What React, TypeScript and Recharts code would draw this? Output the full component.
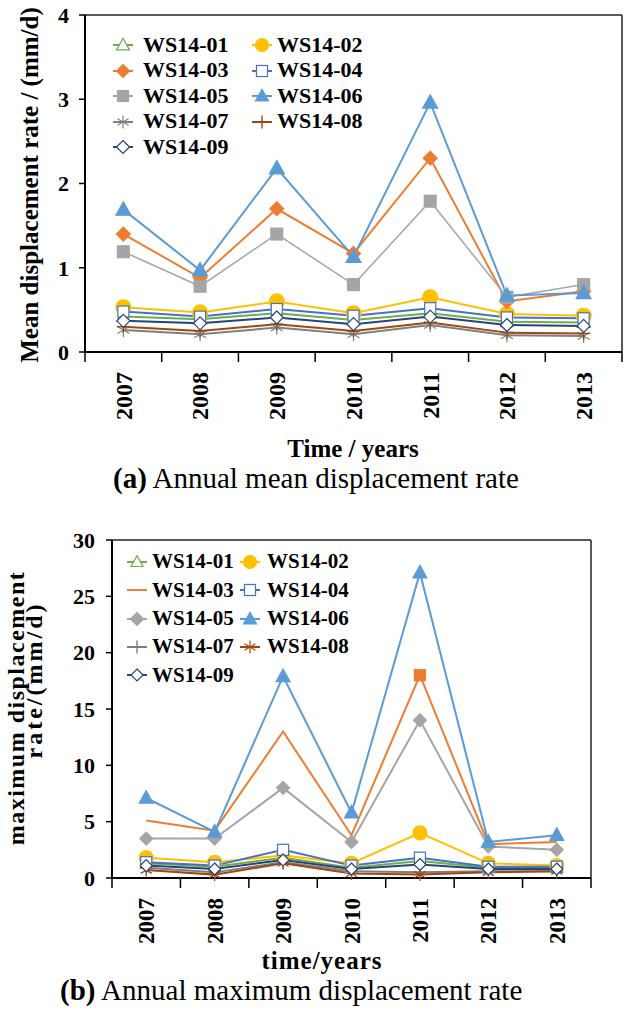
import React from "react";
import { LineChart, Line, XAxis, YAxis, ReferenceLine } from "recharts";

const years = ["2007", "2008", "2009", "2010", "2011", "2012", "2013"];

// (a) annual mean displacement rate, mm/d
const meanWS01 = [0.42, 0.39, 0.46, 0.38, 0.46, 0.36, 0.35];
const meanWS02 = [0.53, 0.47, 0.6, 0.46, 0.65, 0.45, 0.43];
const meanWS03 = [1.4, 0.88, 1.7, 1.17, 2.3, 0.6, 0.72];
const meanWS04 = [0.48, 0.42, 0.51, 0.43, 0.52, 0.41, 0.4];
const meanWS05 = [1.19, 0.78, 1.4, 0.8, 1.79, 0.65, 0.8];
const meanWS06 = [1.69, 0.97, 2.18, 1.13, 2.96, 0.67, 0.7];
const meanWS07 = [0.26, 0.21, 0.29, 0.21, 0.32, 0.2, 0.19];
const meanWS08 = [0.3, 0.25, 0.33, 0.25, 0.35, 0.23, 0.22];
const meanWS09 = [0.37, 0.34, 0.41, 0.33, 0.42, 0.32, 0.31];

// (b) annual maximum displacement rate, mm/d
const maxWS01 = [1.3, 1.0, 1.8, 0.9, 1.5, 0.9, 0.9];
const maxWS02 = [1.8, 1.4, 2.0, 1.3, 4.0, 1.3, 1.1];
const maxWS03 = [5.1, 4.2, 13.0, 3.8, 18.0, 3.0, 3.2];
const maxWS04 = [1.4, 1.1, 2.5, 1.1, 1.8, 1.0, 1.0];
const maxWS05 = [3.5, 3.5, 8.0, 3.2, 14.0, 2.8, 2.5];
const maxWS06 = [7.1, 4.1, 17.9, 5.8, 27.1, 3.2, 3.8];
const maxWS07 = [0.9, 0.5, 1.4, 0.6, 0.5, 0.6, 0.6];
const maxWS08 = [0.7, 0.3, 1.3, 0.4, 0.3, 0.5, 0.6];
const maxWS09 = [1.1, 0.8, 1.6, 0.8, 1.2, 0.8, 0.8];

const meanTicks = [0, 1, 2, 3, 4];
const maxTicks = [0, 5, 10, 15, 20, 25, 30];
const stationNames = ["WS14-01", "WS14-02", "WS14-03", "WS14-04", "WS14-05", "WS14-06", "WS14-07", "WS14-08", "WS14-09"];

// each year sits in the middle of its slot; slot edges carry the tick marks
const slotTicks = [...years.map((_, i) => i), years.length, ...years.map((_, i) => i + 0.5)].sort((a, b) => a - b);

const meanData = years.map((year, i) => ({
  year,
  pos: i + 0.5,
  s1: meanWS01[i], s2: meanWS02[i], s3: meanWS03[i], s4: meanWS04[i], s5: meanWS05[i],
  s6: meanWS06[i], s7: meanWS07[i], s8: meanWS08[i], s9: meanWS09[i],
}));
const maxData = years.map((year, i) => ({
  year,
  pos: i + 0.5,
  s1: maxWS01[i], s2: maxWS02[i], s3: maxWS03[i], s4: maxWS04[i], s5: maxWS05[i],
  s6: maxWS06[i], s7: maxWS07[i], s8: maxWS08[i], s9: maxWS09[i],
}));

const FONT = "'Liberation Serif', 'Times New Roman', serif";

type Shape = "triangle" | "circle" | "diamond" | "square" | "asterisk" | "plus" | "none";

interface Style {
  key: string;
  color: string;
  shape: Shape;
  filled: boolean;
  size: number;
  width: number;
  onlyIndex?: number;
  legendShape?: Shape;
}

const meanStyles: Style[] = [
  { key: "s1", color: "#70AD47", shape: "triangle", filled: false, size: 13, width: 2 },
  { key: "s2", color: "#FFC000", shape: "circle", filled: true, size: 15, width: 2 },
  { key: "s3", color: "#ED7D31", shape: "diamond", filled: true, size: 14, width: 2 },
  { key: "s4", color: "#4472C4", shape: "square", filled: false, size: 13, width: 2 },
  { key: "s5", color: "#A5A5A5", shape: "square", filled: true, size: 14, width: 1.5 },
  { key: "s6", color: "#5B9BD5", shape: "triangle", filled: true, size: 15, width: 2 },
  { key: "s7", color: "#7F7F7F", shape: "asterisk", filled: false, size: 14, width: 2 },
  { key: "s8", color: "#9E480E", shape: "plus", filled: false, size: 13, width: 2 },
  { key: "s9", color: "#264478", shape: "diamond", filled: false, size: 13, width: 2 },
];

const maxStyles: Style[] = [
  { key: "s1", color: "#70AD47", shape: "triangle", filled: false, size: 12, width: 2 },
  { key: "s2", color: "#FFC000", shape: "circle", filled: true, size: 14, width: 2 },
  { key: "s3", color: "#ED7D31", shape: "square", filled: true, size: 13, width: 2, onlyIndex: 4, legendShape: "none" },
  { key: "s4", color: "#4472C4", shape: "square", filled: false, size: 13, width: 2 },
  { key: "s5", color: "#A5A5A5", shape: "diamond", filled: true, size: 13, width: 2 },
  { key: "s6", color: "#5B9BD5", shape: "triangle", filled: true, size: 14, width: 2 },
  { key: "s7", color: "#7F7F7F", shape: "plus", filled: false, size: 13, width: 2 },
  { key: "s8", color: "#9E480E", shape: "asterisk", filled: false, size: 13, width: 2 },
  { key: "s9", color: "#264478", shape: "diamond", filled: false, size: 12, width: 2 },
];

function drawShape(shape: Shape, cx: number, cy: number, s: number, color: string, filled: boolean) {
  const h = s / 2;
  const fill = filled ? color : "#fff";
  switch (shape) {
    case "circle":
      return <circle cx={cx} cy={cy} r={h} fill={fill} stroke={color} strokeWidth={1.2} />;
    case "triangle":
      return (
        <polygon
          points={`${cx},${cy - h * 1.05} ${cx - h},${cy + h * 0.75} ${cx + h},${cy + h * 0.75}`}
          fill={fill}
          stroke={color}
          strokeWidth={1.2}
        />
      );
    case "diamond":
      return (
        <polygon
          points={`${cx},${cy - h} ${cx + h},${cy} ${cx},${cy + h} ${cx - h},${cy}`}
          fill={fill}
          stroke={color}
          strokeWidth={1.2}
        />
      );
    case "square":
      return <rect x={cx - h * 0.85} y={cy - h * 0.85} width={h * 1.7} height={h * 1.7} fill={fill} stroke={color} strokeWidth={1.2} />;
    case "asterisk":
      return (
        <g stroke={color} strokeWidth={1.2}>
          <line x1={cx} y1={cy - h} x2={cx} y2={cy + h} />
          <line x1={cx - h * 0.85} y1={cy - h * 0.5} x2={cx + h * 0.85} y2={cy + h * 0.5} />
          <line x1={cx - h * 0.85} y1={cy + h * 0.5} x2={cx + h * 0.85} y2={cy - h * 0.5} />
        </g>
      );
    case "plus":
      return (
        <g stroke={color} strokeWidth={1.4}>
          <line x1={cx} y1={cy - h} x2={cx} y2={cy + h} />
          <line x1={cx - h} y1={cy} x2={cx + h} y2={cy} />
        </g>
      );
    default:
      return null;
  }
}

const makeDot = (st: Style) => (props: any) => {
  const { cx, cy, index } = props;
  if (cx == null || cy == null || (st.onlyIndex !== undefined && index !== st.onlyIndex)) {
    return <g key={`${st.key}-${index}`} />;
  }
  return <g key={`${st.key}-${index}`}>{drawShape(st.shape, cx, cy, st.size, st.color, st.filled)}</g>;
};

// integer ticks = slot edges (tick mark), half ticks = year label
const SlotTick = (props: any) => {
  const { x, y, payload, fs } = props;
  const v = payload.value as number;
  if (Number.isInteger(v)) {
    return <line x1={x} y1={y - 10} x2={x} y2={y} stroke="#000" strokeWidth={1.5} />;
  }
  return (
    <text
      transform={`translate(${x},${y + 10}) rotate(-90)`}
      textAnchor="end"
      dy="0.35em"
      fontSize={fs}
      fontWeight="bold"
      fontFamily={FONT}
      fill="#000"
    >
      {years[Math.floor(v)]}
    </text>
  );
};

interface LegendProps {
  styles: Style[];
  top: number;
  rowH: number;
  iconX: number[];
  textX: number[];
  fontSize: number;
}

const LegendBox = ({ styles, top, rowH, iconX, textX, fontSize }: LegendProps) => (
  <>
    {styles.map((st, i) => {
      const col = i % 2;
      const row = Math.floor(i / 2);
      const cy = top + row * rowH;
      const shape = st.legendShape ?? st.shape;
      return (
        <React.Fragment key={st.key}>
          <svg width={24} height={20} style={{ position: "absolute", left: iconX[col] - 12, top: cy - 10 }}>
            <line x1={2} y1={10} x2={22} y2={10} stroke={st.color} strokeWidth={2} />
            {drawShape(shape, 12, 10, Math.min(st.size, 13), st.color, st.filled)}
          </svg>
          <div
            style={{
              position: "absolute",
              left: textX[col],
              top: cy - fontSize * 0.6,
              fontFamily: FONT,
              fontWeight: "bold",
              fontSize,
              lineHeight: `${fontSize * 1.2}px`,
              color: "#000",
              whiteSpace: "nowrap",
            }}
          >
            {stationNames[i]}
          </div>
        </React.Fragment>
      );
    })}
  </>
);

const axisStroke = { stroke: "#000", strokeWidth: 2 };
const frameStroke = "#222";

const App = () => {
  return (
    <div style={{ position: "absolute", left: 0, top: 0, width: 628, height: 1021, background: "#fff" }}>
      {/* (a) mean displacement rate */}
      <div style={{ position: "absolute", left: 0, top: 0 }}>
        <LineChart width={628} height={460} data={meanData} margin={{ top: 15, right: 6, bottom: 0, left: 0 }}>
          <XAxis
            dataKey="pos"
            type="number"
            domain={[0, years.length]}
            ticks={slotTicks}
            interval={0}
            height={108}
            axisLine={axisStroke}
            tickLine={false}
            tickSize={10}
            tickMargin={0}
            tick={<SlotTick fs={24} />}
          />
          <YAxis
            width={85}
            domain={[0, 4]}
            ticks={meanTicks}
            axisLine={axisStroke}
            tickLine={{ stroke: "#000", strokeWidth: 1.5 }}
            tickSize={6}
            tickMargin={10}
            tick={{ fontSize: 22, fontWeight: "bold", fill: "#000", fontFamily: FONT }}
          />
          <ReferenceLine y={4} stroke={frameStroke} strokeWidth={1.5} />
          <ReferenceLine x={years.length} stroke={frameStroke} strokeWidth={1.5} />
          {meanStyles.map((st) => (
            <Line
              key={st.key}
              type="linear"
              dataKey={st.key}
              stroke={st.color}
              strokeWidth={st.width}
              dot={makeDot(st)}
              activeDot={false}
              isAnimationActive={false}
            />
          ))}
        </LineChart>
        <LegendBox styles={meanStyles} top={45} rowH={25.5} iconX={[123, 262]} textX={[143, 277]} fontSize={22} />
      </div>

      {/* (b) maximum displacement rate */}
      <div style={{ position: "absolute", left: 0, top: 520 }}>
        <LineChart width={628} height={480} data={maxData} margin={{ top: 20, right: 37, bottom: 0, left: 0 }}>
          <XAxis
            dataKey="pos"
            type="number"
            domain={[0, years.length]}
            ticks={slotTicks}
            interval={0}
            height={122}
            axisLine={axisStroke}
            tickLine={false}
            tickSize={10}
            tickMargin={0}
            tick={<SlotTick fs={23} />}
          />
          <YAxis
            width={112}
            domain={[0, 30]}
            ticks={maxTicks}
            axisLine={axisStroke}
            tickLine={{ stroke: "#000", strokeWidth: 1.5 }}
            tickSize={6}
            tickMargin={11}
            tick={{ fontSize: 22, fontWeight: "bold", fill: "#000", fontFamily: FONT }}
          />
          <ReferenceLine y={30} stroke={frameStroke} strokeWidth={1.5} />
          <ReferenceLine x={years.length} stroke={frameStroke} strokeWidth={1.5} />
          {maxStyles.map((st) => (
            <Line
              key={st.key}
              type="linear"
              dataKey={st.key}
              stroke={st.color}
              strokeWidth={st.width}
              dot={makeDot(st)}
              activeDot={false}
              isAnimationActive={false}
            />
          ))}
        </LineChart>
        <LegendBox styles={maxStyles} top={42} rowH={28.3} iconX={[137, 250]} textX={[152, 267]} fontSize={21} />
      </div>

      {/* axis titles and captions */}
      <svg width={628} height={1021} style={{ position: "absolute", left: 0, top: 0, pointerEvents: "none" }}>
        <g fontFamily={FONT} fill="#000">
          <text transform="translate(29,185) rotate(-90)" textAnchor="middle" dominantBaseline="central" fontSize={25} fontWeight="bold">
            Mean displacement rate / (mm/d)
          </text>
          <text x={353} y={448} textAnchor="middle" dominantBaseline="central" fontSize={25} fontWeight="bold">
            Time / years
          </text>
          <text x={113} y={478} dominantBaseline="central" fontSize={29}>
            <tspan fontWeight="bold">(a)</tspan> Annual mean displacement rate
          </text>

          <text transform="translate(16,708) rotate(-90)" textAnchor="middle" dominantBaseline="central" fontSize={24} fontWeight="bold" letterSpacing={1.5}>
            maximum displacement
          </text>
          <text transform="translate(34,680) rotate(-90)" textAnchor="middle" dominantBaseline="central" fontSize={24} fontWeight="bold" letterSpacing={3}>
            rate/(mm/d)
          </text>
          <text x={322} y={960} textAnchor="middle" dominantBaseline="central" fontSize={25} fontWeight="bold" letterSpacing={1}>
            time/years
          </text>
          <text x={60} y={990} dominantBaseline="central" fontSize={29}>
            <tspan fontWeight="bold">(b)</tspan> Annual maximum displacement rate
          </text>
        </g>
      </svg>
    </div>
  );
};

export default App;
